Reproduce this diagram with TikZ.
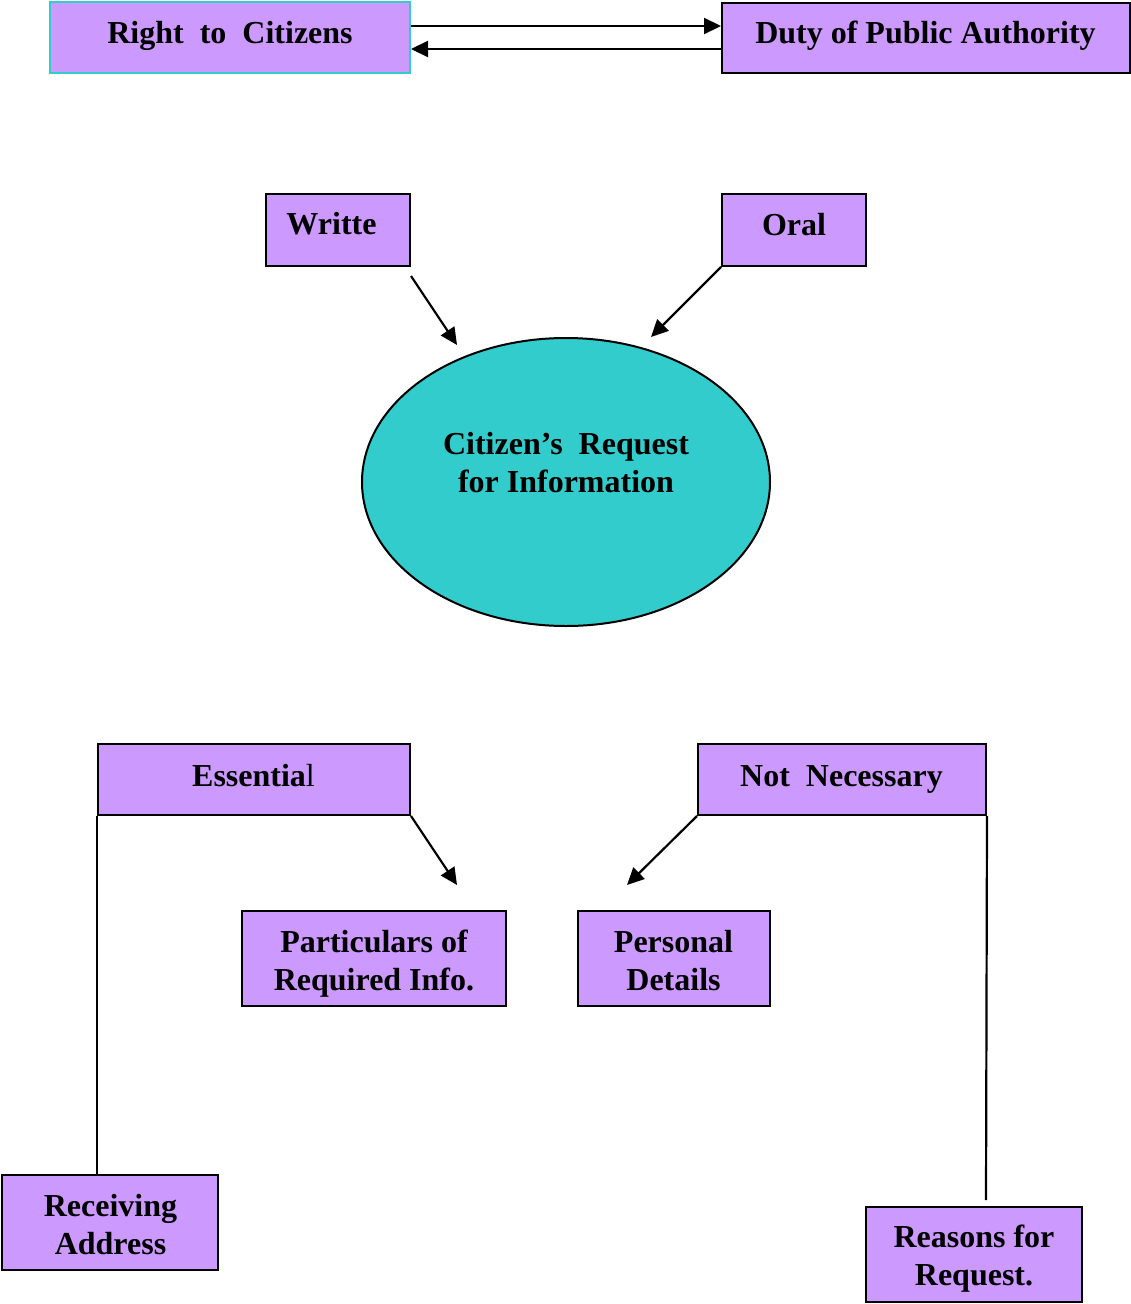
\documentclass[tikz,border=0pt]{standalone}
\usepackage{fontspec}
\setmainfont{Liberation Serif}
\usetikzlibrary{arrows.meta,shapes.geometric}
\definecolor{boxpurple}{RGB}{204,153,255}
\definecolor{tealfill}{RGB}{51,204,204}
\tikzset{
  pbox/.style={draw=black, line width=2pt, fill=boxpurple, rectangle, inner sep=0pt},
  txt/.style={font=\fontsize{32}{38}\selectfont\bfseries, align=center, inner sep=0pt, anchor=base},
  arr/.style={line width=2.2pt, -{Triangle[length=17pt,width=16pt]}},
  conn/.style={line width=2.2pt}
}
\begin{document}
\begin{tikzpicture}[x=1pt,y=-1pt]
\useasboundingbox (0,0) rectangle (1131,1304);
% boxes
\node[pbox, draw=tealfill, minimum width=360pt, minimum height=71pt] (rtc) at (230,37.5) {};
\node[pbox, minimum width=408pt, minimum height=70pt] (duty) at (926,38) {};
\node[pbox, minimum width=144pt, minimum height=72pt] (writte) at (338,230) {};
\node[pbox, minimum width=144pt, minimum height=72pt] (oral) at (794,230) {};
\node[draw=black, line width=2pt, fill=tealfill, ellipse, inner sep=0pt, minimum width=408pt, minimum height=288pt] (req) at (566,482) {};
\node[pbox, minimum width=312pt, minimum height=71pt] (ess) at (254,779.5) {};
\node[pbox, minimum width=288pt, minimum height=71pt] (nn) at (842,779.5) {};
\node[pbox, minimum width=264pt, minimum height=95pt] (part) at (374,958.5) {};
\node[pbox, minimum width=192pt, minimum height=95pt] (pers) at (674,958.5) {};
\node[pbox, minimum width=216pt, minimum height=95pt] (recv) at (110,1222.5) {};
\node[pbox, minimum width=216pt, minimum height=95pt] (reas) at (974,1254.5) {};
% texts (base anchor = baseline of last line)
\node[txt] (rtc-t) at (230,43) {Right~~to~~Citizens};
\node[txt] (duty-t) at (925.5,43) {Duty of Public Authority};
\node[txt] (writte-t) at (331.5,234) {Writte};
\node[txt] (oral-t) at (794,235) {Oral};
\node[txt] (req-t) at (566,492) {Citizen’s~~Request\\for Information};
\node[txt] (ess-t) at (253.5,786) {Essentia{\mdseries l}};
\node[txt] (nn-t) at (841.5,786) {Not~~Necessary};
\node[txt] (part-t) at (374,990) {Particulars of\\Required Info.};
\node[txt] (pers-t) at (673.5,990) {Personal\\Details};
\node[txt] (recv-t) at (110.5,1254) {Receiving\\Address};
\node[txt] (reas-t) at (974,1285) {Reasons for\\Request.};
% coordinates
\coordinate (ya) at (0,26);
\coordinate (yb) at (0,49);
\coordinate (wend) at (457,345);
\coordinate (oend) at (651,337);
\coordinate (eend) at (457,885);
\coordinate (nend) at (627,885);
\coordinate (rend) at (986,1200);
% connectors
\draw[arr] (rtc.east |- ya) -- (duty.west |- ya);
\draw[arr] (duty.west |- yb) -- (rtc.east |- yb);
\draw[arr] ([yshift=-9pt]writte.south east) -- (wend);
\draw[arr] (oral.south west) -- (oend);
\draw[arr] (ess.south east) -- (eend);
\draw[arr] (nn.south west) -- (nend);
\draw[conn] (ess.south west) -- (ess.south west |- recv.north);
\draw[conn] (nn.south east) -- (rend);
\end{tikzpicture}
\end{document}
